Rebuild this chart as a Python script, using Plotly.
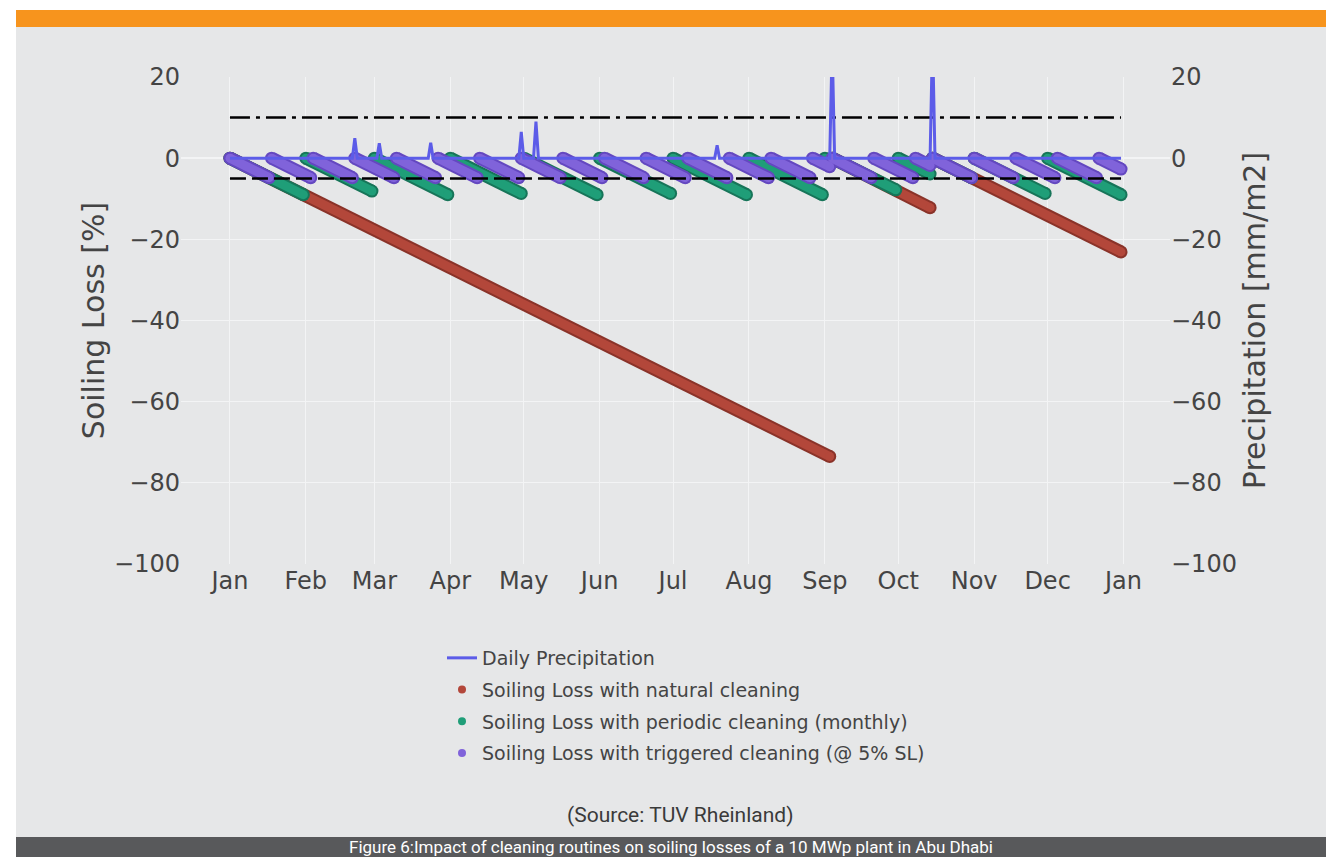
import plotly.graph_objects as go

# ---------------------------------------------------------------
# Data (year 2019, values in %, mm/m2)
# ---------------------------------------------------------------

# daily precipitation: zero on every day that is not a rain day
rain_dates = ["2019-01-01",
              "2019-02-20", "2019-02-21", "2019-02-22",
              "2019-03-02", "2019-03-03", "2019-03-04",
              "2019-03-23", "2019-03-24", "2019-03-25",
              "2019-04-29", "2019-04-30", "2019-05-01",
              "2019-05-05", "2019-05-06", "2019-05-07",
              "2019-07-18", "2019-07-19", "2019-07-20",
              "2019-09-03", "2019-09-04", "2019-09-05",
              "2019-10-14", "2019-10-15", "2019-10-16",
              "2019-12-31"]
rain_mm = [0,
           0, 4.9, 0,
           0, 3.7, 0,
           0, 3.8, 0,
           0, 6.5, 0,
           0, 9.0, 0,
           0, 3.2, 0,
           0, 28.0, 0,
           0, 30.0, 0,
           0]

# soiling loss with natural cleaning (only heavy rain cleans)
natural_start = ["2019-01-01", "2019-09-04", "2019-10-15"]
natural_end = ["2019-09-03", "2019-10-14", "2019-12-31"]
natural_end_loss = [-73.5, -12.2, -23.1]

# soiling loss with periodic (monthly) cleaning
periodic_start = ["2019-01-01", "2019-02-01", "2019-03-01", "2019-04-01", "2019-05-01",
                  "2019-06-01", "2019-07-01", "2019-08-01", "2019-09-01", "2019-09-04",
                  "2019-10-01", "2019-10-15", "2019-11-01", "2019-12-01"]
periodic_end = ["2019-01-31", "2019-02-28", "2019-03-31", "2019-04-30", "2019-05-31",
                "2019-06-30", "2019-07-31", "2019-08-31", "2019-09-03", "2019-09-30",
                "2019-10-14", "2019-10-31", "2019-11-30", "2019-12-31"]
periodic_end_loss = [-9.0, -8.1, -9.0, -8.7, -9.0,
                     -8.7, -9.0, -9.0, -0.6, -7.8,
                     -3.9, -4.8, -8.7, -9.0]

# soiling loss with triggered cleaning (@ 5% SL)
triggered_start = ["2019-01-01", "2019-01-18", "2019-02-04", "2019-02-21", "2019-03-10",
                   "2019-03-27", "2019-04-13", "2019-04-30", "2019-05-17", "2019-06-03",
                   "2019-06-20", "2019-07-07", "2019-07-24", "2019-08-10", "2019-08-27",
                   "2019-09-04", "2019-09-21", "2019-10-08", "2019-10-15", "2019-11-01",
                   "2019-11-18", "2019-12-05", "2019-12-22"]
triggered_end = ["2019-01-17", "2019-02-03", "2019-02-20", "2019-03-09", "2019-03-26",
                 "2019-04-12", "2019-04-29", "2019-05-16", "2019-06-02", "2019-06-19",
                 "2019-07-06", "2019-07-23", "2019-08-09", "2019-08-26", "2019-09-03",
                 "2019-09-20", "2019-10-07", "2019-10-14", "2019-10-31", "2019-11-17",
                 "2019-12-04", "2019-12-21", "2019-12-31"]
triggered_end_loss = [-4.8, -4.8, -4.8, -4.8, -4.8,
                      -4.8, -4.8, -4.8, -4.8, -4.8,
                      -4.8, -4.8, -4.8, -4.8, -2.1,
                      -4.8, -4.8, -1.8, -4.8, -4.8,
                      -4.8, -4.8, -2.7]

# reference levels
level_dates = ["2019-01-01", "2019-12-31"]
rain_threshold = 10
trigger_level = -5

y_ticks = [-100, -80, -60, -40, -20, 0, 20]

# ---------------------------------------------------------------
# styling
# ---------------------------------------------------------------
W, H = 1326, 857
PLOT_L, PLOT_R, PLOT_T, PLOT_B = 181, 1170, 77, 564

PANEL = "#e6e7e8"
GRID = "#f3f4f5"
BLUE = "#5c5ce8"
SEG_W = 13


def px_x(px):
    return (px - PLOT_L) / (PLOT_R - PLOT_L)


def px_y(py):
    return (PLOT_B - py) / (PLOT_B - PLOT_T)


def segments(starts, ends, end_vals):
    xs, ys = [], []
    for s, e, v in zip(starts, ends, end_vals):
        xs += [s, e, None]
        ys += [0, v, None]
    return xs, ys


fig = go.Figure()

# precipitation on the right axis (drawn on top of the soiling bands)
fig.add_trace(go.Scatter(x=rain_dates, y=rain_mm, yaxis="y2", mode="lines",
                         name="Daily Precipitation", legendgroup="a",
                         line=dict(color=BLUE, width=3)))

# name, fill colour, edge colour, data, legend group
series = [("Soiling Loss with natural cleaning", "#b3473a", "#8a3329",
           natural_start, natural_end, natural_end_loss, "b"),
          ("Soiling Loss with periodic cleaning (monthly)", "#1f9e78", "#177559",
           periodic_start, periodic_end, periodic_end_loss, "c"),
          ("Soiling Loss with triggered cleaning (@ 5% SL)", "#8063da", "#6448c0",
           triggered_start, triggered_end, triggered_end_loss, "d")]

# legend entries (dots only)
for name, col, edge, _, _, _, grp in series:
    fig.add_trace(go.Scatter(x=[None], y=[None], mode="markers", name=name, legendgroup=grp,
                             marker=dict(color=col, size=8)))

# soiling bands: darker edge underneath, fill on top
for name, col, edge, st, en, vals, grp in series:
    xs, ys = segments(st, en, vals)
    for c, w in [(edge, SEG_W), (col, SEG_W - 4)]:
        fig.add_trace(go.Scatter(x=xs, y=ys, mode="lines+markers", showlegend=False,
                                 legendgroup=grp, line=dict(color=c, width=w),
                                 marker=dict(color=c, size=w), hoverinfo="skip"))

fig.add_trace(go.Scatter(x=level_dates, y=[rain_threshold] * 2, mode="lines", showlegend=False,
                         line=dict(color="black", width=2.5, dash="20px,6px,4px,6px")))
fig.add_trace(go.Scatter(x=level_dates, y=[trigger_level] * 2, mode="lines", showlegend=False,
                         line=dict(color="black", width=2.5, dash="16px,6px")))

axis_font = dict(size=24, color="#444")
title_font = dict(size=30, color="#444")

fig.update_layout(
    width=W, height=H,
    margin=dict(l=PLOT_L, r=W - PLOT_R, t=PLOT_T, b=H - PLOT_B),
    paper_bgcolor=PANEL, plot_bgcolor="rgba(0,0,0,0)",
    font=dict(family="DejaVu Sans", color="#444"),
    xaxis=dict(type="date", range=["2018-12-12", "2020-01-20"], tick0="2019-01-01", dtick="M1",
               tickformat="%b", gridcolor=GRID, zeroline=False, tickfont=axis_font),
    yaxis=dict(range=[-100, 20], tickvals=y_ticks, gridcolor=GRID, zeroline=True,
               zerolinecolor=GRID, zerolinewidth=2, tickfont=axis_font,
               title=dict(text="Soiling Loss [%]", font=title_font, standoff=0)),
    yaxis2=dict(range=[-100, 20], tickvals=y_ticks, overlaying="y", side="right",
                showgrid=False, zeroline=False, tickfont=axis_font,
                title=dict(text="Precipitation [mm/m2]", font=title_font, standoff=8)),
    legend=dict(x=px_x(442), y=px_y(639), xanchor="left", yanchor="top",
                bgcolor="rgba(0,0,0,0)", font=dict(size=19, color="#444"),
                tracegroupgap=4),
    showlegend=True,
)

# page frame: white margin, orange top bar, dark caption bar
frame = [(0, 0, W, 10, "white"), (0, 0, 16, H, "white"),
         (16, 10, W, 27, "#f7941d"), (16, 837, W, H, "#58595b")]
for x0, y0, x1, y1, col in frame:
    fig.add_shape(type="rect", xref="paper", yref="paper",
                  x0=px_x(x0), x1=px_x(x1), y0=px_y(y1), y1=px_y(y0),
                  fillcolor=col, line_width=0, layer="below")

fig.add_annotation(text="(Source: TUV Rheinland)", xref="paper", yref="paper",
                   x=px_x(680), y=px_y(815), xanchor="center", yanchor="middle", showarrow=False,
                   font=dict(family="Roboto", size=21, color="#3a3a3a"))
fig.add_annotation(text="Figure 6:Impact of cleaning routines on soiling losses of a 10 MWp plant in Abu Dhabi",
                   xref="paper", yref="paper", x=px_x(671), y=px_y(847),
                   xanchor="center", yanchor="middle", showarrow=False,
                   font=dict(family="Roboto", size=17, color="white"))

fig.write_html("out.html", config={"displayModeBar": False},
               post_script="document.body.style.margin='0';document.body.style.overflow='hidden';")
